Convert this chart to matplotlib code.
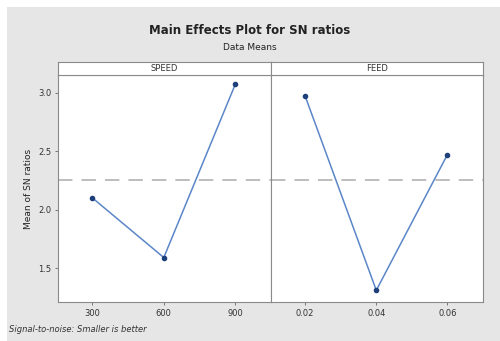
import matplotlib
matplotlib.use("Agg")
import matplotlib.pyplot as plt
from matplotlib.patches import Rectangle

speed_levels = ["300", "600", "900"]
speed_sn = [2.10, 1.59, 3.07]
feed_levels = ["0.02", "0.04", "0.06"]
feed_sn = [2.97, 1.31, 2.47]
y_ticks = [1.5, 2.0, 2.5, 3.0]
grand_mean = sum(speed_sn + feed_sn) / 6

W, H = 500, 341
fig = plt.figure(figsize=(W / 100, H / 100), dpi=100, facecolor="white")
fig.patches.append(Rectangle((7 / W, 0), 1 - 7 / W, 1 - 7 / H, transform=fig.transFigure,
                             facecolor="#e6e6e6", edgecolor="none", zorder=-5))

left, mid, right = 58 / W, 271 / W, 483 / W
bottom = 1 - 302 / H
top = 1 - 75 / H
strip_top = 1 - 62 / H

panels = [("SPEED", speed_levels, speed_sn), ("FEED", feed_levels, feed_sn)]
bounds = [(left, mid), (mid, right)]
ylim = (1.21, 3.15)
axes = []
for i, ((name, levels, vals), (x0, x1)) in enumerate(zip(panels, bounds)):
    ax = fig.add_axes([x0, bottom, x1 - x0, top - bottom])
    ax.set_facecolor("white")
    xs = list(range(len(levels)))
    ax.axhline(grand_mean, color="#b8b8b8", lw=1.3, ls=(0, (8, 5)), zorder=1)
    ax.plot(xs, vals, color="#5b86c8", lw=1.1, zorder=2)
    ax.plot(xs, vals, ls="none", marker="o", ms=3, color="#1d3f7a", zorder=3)
    ax.set_xlim(-0.48, 2.5)
    ax.set_ylim(*ylim)
    ax.set_xticks(xs)
    ax.set_xticklabels(levels, fontsize=6, color="#333333")
    ax.tick_params(axis="both", length=2, width=0.6, color="#666666", pad=3)
    if i == 0:
        ax.set_yticks(y_ticks)
        ax.set_yticklabels([f"{v:.1f}" for v in y_ticks], fontsize=6, color="#333333")
    else:
        ax.set_yticks([])
    for s in ax.spines.values():
        s.set_color("#8a8a8a")
        s.set_linewidth(0.8)
    # strip
    sax = fig.add_axes([x0, top, x1 - x0, strip_top - top])
    sax.set_facecolor("white")
    sax.set_xticks([])
    sax.set_yticks([])
    for s in sax.spines.values():
        s.set_color("#8a8a8a")
        s.set_linewidth(0.8)
    sax.text(0.5, 0.5, name, ha="center", va="center", fontsize=6, color="#333333",
             transform=sax.transAxes)
    axes.append(ax)

fig.text(0.5, 1 - 30 / H, "Main Effects Plot for SN ratios", ha="center", va="center",
         fontsize=8.5, fontweight="bold", color="#222222")
fig.text(0.5, 1 - 47 / H, "Data Means", ha="center", va="center", fontsize=6.5, color="#222222")
fig.text(29 / W, (bottom + top) / 2, "Mean of SN ratios", rotation=90, ha="center", va="center",
         fontsize=6.5, color="#222222")
fig.text(9 / W, 1 - 330 / H, "Signal-to-noise: Smaller is better", ha="left", va="center",
         fontsize=6, style="italic", color="#333333")

fig.savefig("out.png", dpi=100, facecolor=fig.get_facecolor())
